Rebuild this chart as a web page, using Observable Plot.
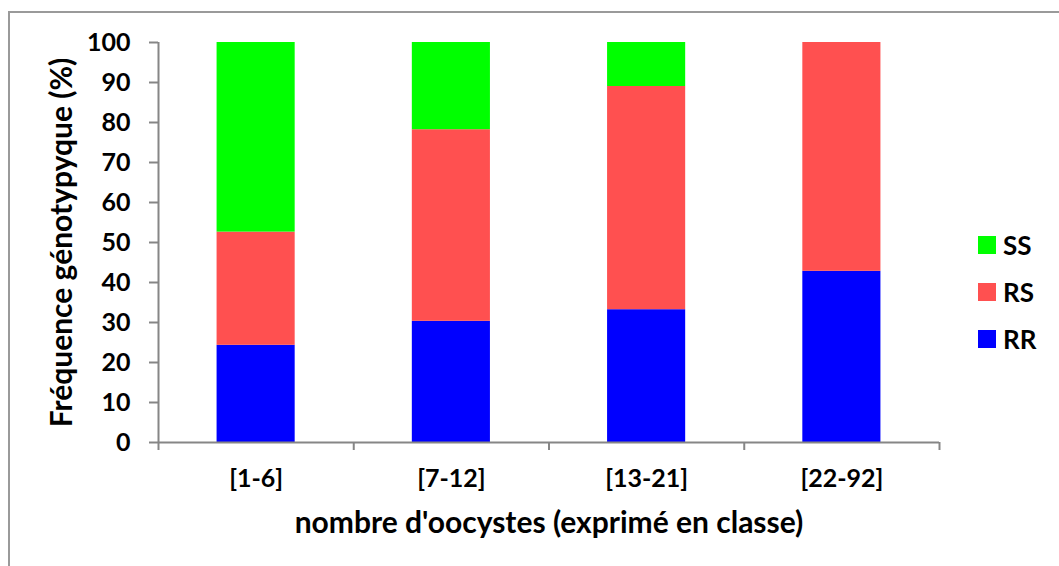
<!DOCTYPE html>
<html>
<head>
<meta charset="utf-8">
<script src="https://cdn.jsdelivr.net/npm/d3@7"></script>
<script src="https://cdn.jsdelivr.net/npm/@observablehq/plot@0.6"></script>
<style>
  html, body { margin: 0; padding: 0; background: #fff; overflow: hidden; }
  #wrap { position: relative; width: 1059px; height: 566px; }
  #frame { position: absolute; left: 8px; top: 11px; width: 1100px; height: 600px; border: 2px solid #9a9a9a; box-sizing: border-box; }
  #chart { position: absolute; left: 0; top: 0; }
  #legend { position: absolute; left: 978px; top: 230px; font-family: Lato, sans-serif; font-weight: bold; font-size: 26px; color: #000; }
  .item { display: flex; align-items: center; height: 30px; margin-bottom: 17px; }
  .sw { width: 18px; height: 18px; margin-right: 7px; }
</style>
</head>
<body>
<div id="wrap">
  <div id="frame"></div>
  <div id="chart"></div>
  <div id="legend"></div>
</div>
<script>
// Data
const categories = ["[1-6]", "[7-12]", "[13-21]", "[22-92]"];
const genotypes = ["RR", "RS", "SS"];
const RR = [24.3, 30.3, 33.2, 42.8];
const RS = [28.3, 47.9, 55.8, 57.2];
const SS = [47.4, 21.8, 11.0, 0];
const colors = {RR: "#0000FF", RS: "#FF5050", SS: "#00FF00"};
const yTicks = [0, 10, 20, 30, 40, 50, 60, 70, 80, 90, 100];
const yTitle = "Fréquence génotypyque (%)";
const xTitle = "nombre d'oocystes (exprimé en classe)";

// Build stacked rows
const series = {RR, RS, SS};
const rows = [];
categories.forEach((c, i) => {
  let acc = 0;
  genotypes.forEach(g => {
    const v = series[g][i];
    rows.push({cls: c, i, geno: g, y1: acc, y2: acc + v});
    acc += v;
  });
});

const chart = Plot.plot({
  width: 1059,
  height: 566,
  marginLeft: 158,
  marginRight: 120,
  marginTop: 42,
  marginBottom: 124,
  style: {fontFamily: "Lato, sans-serif", fontWeight: "bold", fontSize: "25px", color: "#000", background: "transparent"},
  x: {type: "linear", domain: [0, categories.length]},
  y: {domain: [0, 100]},
  marks: [
    Plot.rectY(rows, {x1: d => d.i + 0.3, x2: d => d.i + 0.7, y1: "y1", y2: "y2", fill: d => colors[d.geno]}),
    Plot.ruleY([0], {stroke: "#868686", strokeWidth: 2}),
    Plot.ruleX([0], {stroke: "#868686", strokeWidth: 2}),
    Plot.axisY({ticks: yTicks, tickSize: 9, tickPadding: 19, stroke: "#868686", strokeWidth: 2, strokeOpacity: 1,
      label: null, fontSize: 25, fontWeight: "bold"}),
    Plot.axisX({ticks: d3.range(categories.length + 1), tickSize: 8, tickFormat: () => "", stroke: "#868686", strokeWidth: 2, strokeOpacity: 1, label: null}),
    Plot.axisX({ticks: categories.map((c, i) => i + 0.5), tickSize: 0, tickPadding: 27, tickFormat: d => categories[Math.floor(d)],
      label: null, fontSize: 25, fontWeight: "bold"}),
    Plot.text([xTitle], {frameAnchor: "bottom", text: d => d, dy: 81, lineAnchor: "middle", textAnchor: "middle", fontSize: 30, fontWeight: "bold", fill: "#000"}),
    Plot.text([yTitle], {frameAnchor: "left", text: d => d, dx: -96, rotate: -90, lineAnchor: "middle", textAnchor: "middle", fontSize: 30, fontWeight: "bold", fill: "#000"})
  ]
});
document.getElementById("chart").appendChild(chart);

// Legend
const legend = document.getElementById("legend");
["SS", "RS", "RR"].forEach(g => {
  const it = document.createElement("div");
  it.className = "item";
  const sw = document.createElement("div");
  sw.className = "sw";
  sw.style.background = colors[g];
  const t = document.createElement("span");
  t.textContent = g;
  it.appendChild(sw); it.appendChild(t);
  legend.appendChild(it);
});
</script>
</body>
</html>
